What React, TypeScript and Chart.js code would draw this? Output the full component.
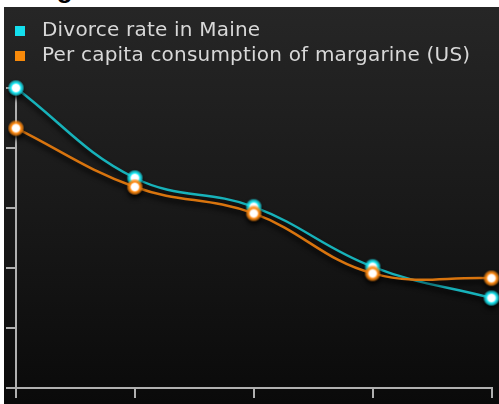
import React, { useEffect, useRef } from 'react';
import { Chart, registerables } from 'chart.js';

Chart.register(...registerables);

const categories = ['2000', '2001', '2002', '2003', '2004'];
const divorceRate = [5.0, 3.5, 3.02, 2.02, 1.5];
const margarine = [4.33, 3.35, 2.91, 1.91, 1.83];
const seriesNames = ['Divorce rate in Maine', 'Per capita consumption of margarine (US)'];
const yTicks = [0, 1, 2, 3, 4, 5];

const lineColors = ['#17b2ba', '#d8740e'];
const glowColors = ['#1ce6f2', '#ff8a12'];
const legendColors = ['#14e0ee', '#f88a0a'];
const axisColor = '#b0b0b0';
const textColor = '#d8d8d8';

function makePointImage(color: string): HTMLCanvasElement {
  const c = document.createElement('canvas');
  c.width = 18;
  c.height = 18;
  const g = c.getContext('2d')!;
  const grad = g.createRadialGradient(9, 9, 0, 9, 9, 8.5);
  grad.addColorStop(0, '#ffffff');
  grad.addColorStop(0.4, '#ffffff');
  grad.addColorStop(0.6, color);
  grad.addColorStop(0.8, color + 'aa');
  grad.addColorStop(1, color + '00');
  g.fillStyle = grad;
  g.beginPath();
  g.arc(9, 9, 8.5, 0, Math.PI * 2);
  g.fill();
  return c;
}

function makeLegendImage(color: string): HTMLCanvasElement {
  const c = document.createElement('canvas');
  c.width = 21;
  c.height = 10;
  const g = c.getContext('2d')!;
  g.fillStyle = color;
  g.fillRect(4, 0, 10, 10);
  return c;
}

export default function App() {
  const ref = useRef<HTMLCanvasElement>(null);

  useEffect(() => {
    if (!ref.current) return;
    const pointImgs = glowColors.map(makePointImage);
    const legendImgs = legendColors.map(makeLegendImage);

    const shadowPlugin = {
      id: 'lineShadow',
      beforeDatasetDraw(chart: any) {
        const c = chart.ctx;
        c.save();
        c.shadowColor = 'rgba(0,0,0,0.9)';
        c.shadowBlur = 5;
        c.shadowOffsetY = 4;
      },
      afterDatasetDraw(chart: any) {
        chart.ctx.restore();
      },
    };
    const spacingPlugin = {
      id: 'letterSpacing',
      beforeLayout(chart: any) {
        chart.ctx.letterSpacing = '0.2px';
      },
      beforeDraw(chart: any) {
        chart.ctx.letterSpacing = '0.2px';
      },
    };
    const legendGap = {
      id: 'legendGap',
      afterInit(chart: any) {
        const lg = chart.legend;
        if (!lg) return;
        const fit = lg.fit;
        lg.fit = function () {
          fit.call(this);
          this.height += 12;
        };
      },
    };

    const chart = new Chart(ref.current, {
      type: 'line',
      data: {
        labels: categories,
        datasets: [
          {
            label: seriesNames[0],
            data: divorceRate,
            borderColor: lineColors[0],
            backgroundColor: lineColors[0],
            borderWidth: 2.5,
            tension: 0.4,
            pointStyle: pointImgs[0] as any,
            pointRadius: 5,
            clip: false as any,
            order: 1,
            fill: false,
          },
          {
            label: seriesNames[1],
            data: margarine,
            borderColor: lineColors[1],
            backgroundColor: lineColors[1],
            borderWidth: 2.5,
            tension: 0.4,
            pointStyle: pointImgs[1] as any,
            pointRadius: 5,
            clip: false as any,
            order: 0,
            fill: false,
          },
        ],
      },
      options: {
        animation: false,
        responsive: true,
        maintainAspectRatio: false,
        layout: { padding: { left: 2, right: 7, top: 9, bottom: 6 } },
        plugins: {
          legend: {
            position: 'top',
            align: 'start',
            labels: {
              usePointStyle: true,
              pointStyleWidth: 21,
              boxHeight: 10,
              padding: 5,
              color: textColor,
              font: { family: 'DejaVu Sans', size: 20 },
              generateLabels: () =>
                seriesNames.map((t, i) => ({
                  text: t,
                  pointStyle: legendImgs[i] as any,
                  fillStyle: legendColors[i],
                  strokeStyle: legendColors[i],
                  lineWidth: 0,
                  hidden: false,
                  datasetIndex: i,
                  fontColor: textColor,
                })),
            },
          },
          tooltip: { enabled: false },
        },
        scales: {
          x: {
            type: 'category',
            offset: false,
            border: { color: axisColor, width: 2 },
            grid: { drawOnChartArea: false, drawTicks: true, tickLength: 10, color: axisColor, lineWidth: 2 },
            ticks: { display: false },
          },
          y: {
            min: yTicks[0],
            max: yTicks[yTicks.length - 1],
            border: { color: axisColor, width: 2 },
            grid: { drawOnChartArea: false, drawTicks: true, tickLength: 10, color: axisColor, lineWidth: 2 },
            ticks: { display: false, stepSize: 1 },
          },
        },
      },
      plugins: [shadowPlugin, spacingPlugin, legendGap],
    });
    return () => chart.destroy();
  }, []);

  return (
    <div style={{ position: 'fixed', left: 0, top: 0, width: 499, height: 404, overflow: 'hidden', background: '#fff' }}>
      <div
        style={{
          position: 'absolute',
          left: 12,
          top: -24,
          font: 'bold 26px "Liberation Sans", Arial, sans-serif',
          lineHeight: '26px',
          color: '#000',
          whiteSpace: 'nowrap',
        }}
      >
        Image
      </div>
      <div
        style={{
          position: 'absolute',
          left: 4,
          top: 7,
          width: 495,
          height: 397,
          background: 'linear-gradient(180deg, #262626 0%, #191919 50%, #0a0a0a 100%)',
        }}
      >
        <canvas ref={ref} />
      </div>
    </div>
  );
}
